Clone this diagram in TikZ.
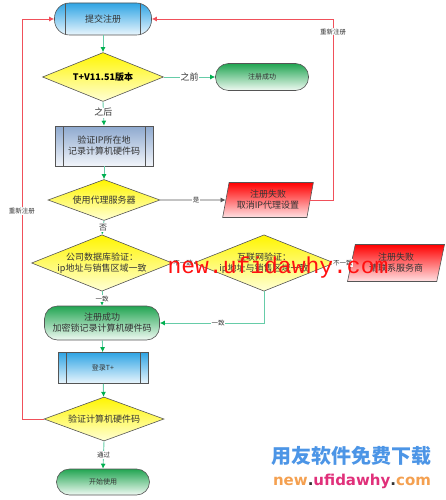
\documentclass[tikz,border=0pt]{standalone}
\usepackage{fontspec}
\usepackage{tikz}
\usetikzlibrary{arrows.meta,shapes.geometric,calc}
\setmainfont{Noto Sans CJK SC}
\newfontfamily\wmmono{Liberation Mono}
\newfontfamily\wmsans{DejaVu Sans}
\definecolor{ink}{HTML}{333333}
\definecolor{edge}{HTML}{555555}
\definecolor{bluetop}{HTML}{2FA4E4}
\definecolor{bluebot}{HTML}{EAF6FD}
\definecolor{steeltop}{HTML}{8EA9CF}
\definecolor{steelbot}{HTML}{F2F5FA}
\definecolor{ylwtop}{HTML}{FFF500}
\definecolor{ylwbot}{HTML}{FFFFD6}
\definecolor{grntop}{HTML}{22A552}
\definecolor{grnbot}{HTML}{F0FAF3}
\definecolor{redtop}{HTML}{FF0000}
\definecolor{redbot}{HTML}{FFE2E4}
\definecolor{flow}{HTML}{66CCA8}
\definecolor{tipgrn}{HTML}{00B050}
\definecolor{loop}{HTML}{F0505A}
\definecolor{wmred}{HTML}{FF1010}
\definecolor{wmblue}{HTML}{4C95E6}
\definecolor{wmorng}{HTML}{F4A050}
\definecolor{wmpink}{HTML}{E0307A}

\tikzset{
  box/.style={draw=edge, line width=0.6pt, font=\fontsize{9}{11}\selectfont,
    text=ink, align=center, inner sep=1pt},
  decide/.style={box, diamond, aspect=2.5, inner sep=0pt,
    top color=ylwtop, bottom color=ylwbot},
  bars/.style={path picture={
    \draw[edge, line width=0.5pt]
      ([xshift=#1]path picture bounding box.north west) -- ([xshift=#1]path picture bounding box.south west)
      ([xshift=-#1]path picture bounding box.north east) -- ([xshift=-#1]path picture bounding box.south east);}},
  proc/.style={box, rectangle, bars=8pt},
  term/.style={box, rectangle, rounded corners=13pt, top color=grntop, bottom color=grnbot},
  fail/.style={box, trapezium, trapezium left angle=76, trapezium right angle=104,
    trapezium stretches=true, top color=redtop, bottom color=redbot},
  flowline/.style={draw=flow, line width=0.9pt, -{Latex[length=5pt,width=5pt,color=tipgrn]}},
  loopline/.style={draw=loop, line width=0.9pt, -{Latex[length=5pt,width=5pt]}},
  tag/.style={font=\fontsize{6.5}{7}\selectfont, text=ink, fill=white, inner sep=0.8pt}
}

\begin{document}
\begin{tikzpicture}[x=1pt, y=-1pt]
  \useasboundingbox (0,0) rectangle (445,500);

  % main column
  \node[box, rectangle, rounded corners=15pt, bars=11pt, top color=bluetop, bottom color=bluebot,
        minimum width=97pt, minimum height=32pt] (reg) at (103,19) {提交注册};
  \node[decide, minimum width=121pt, minimum height=49pt, font=\fontsize{9}{11}\selectfont\bfseries,
        text=black] (ver) at (103,77) {T+V11.51版本};
  \node[term, minimum width=93pt, minimum height=27pt, font=\fontsize{7}{8}\selectfont] (ok1) at (262,77) {注册成功};
  \node[proc, top color=steeltop, bottom color=steelbot, minimum width=98pt, minimum height=40pt]
        (ipbox) at (104,146) {验证IP所在地\\记录计算机硬件码};
  \node[decide, minimum width=112pt, minimum height=41pt] (proxy) at (104,200) {使用代理服务器};
  \node[fail, minimum width=91pt, minimum height=35pt] (fail1) at (268,200) {注册失败\\取消IP代理设置};
  \node[decide, minimum width=132pt, minimum height=43pt] (db) at (102,263) {公司数据库验证：\\ip地址与销售区域一致};
  \node[decide, minimum width=122pt, minimum height=43pt] (net) at (264,263) {互联网验证：\\ip地址与销售区域一致};
  \node[fail, minimum width=97pt, minimum height=37pt] (fail2) at (396,263) {注册失败\\请联系服务商};
  \node[term, minimum width=115pt, minimum height=34pt] (ok2) at (102,323) {注册成功\\加密锁记录计算机硬件码};
  \node[proc, top color=bluetop, bottom color=bluebot, minimum width=90pt, minimum height=31pt,
        font=\fontsize{7}{8}\selectfont] (login) at (103,368) {登录T+};
  \node[decide, minimum width=120pt, minimum height=44pt] (hw) at (104,419) {验证计算机硬件码};
  \node[term, minimum width=93pt, minimum height=26pt, font=\fontsize{7}{8}\selectfont] (start) at (103,482) {开始使用};

  \coordinate (rtop) at (333,19);
  \coordinate (ltop) at (22,19);

  % connectors
  \draw[flowline] (reg) -- (ver);
  \draw[flowline] (ver.east) -- node[tag, font=\fontsize{9}{10}\selectfont] {之前} (ok1.west);
  \draw[flowline] (ver.south) -- node[tag, font=\fontsize{9}{10}\selectfont, pos=0.45] {之后} (ipbox.north);
  \draw[flowline] (ipbox) -- (proxy);
  \draw[draw=edge, line width=0.7pt, -{Latex[length=5pt,width=5pt]}] (proxy.east) -- node[tag, pos=0.55] {是} (fail1.west);
  \draw[loopline] (fail1.east) -| node[tag, pos=0.965] {重新注册} (rtop) -- (reg.east);
  \draw[flowline] (proxy.south) -- node[tag, font=\fontsize{8}{9}\selectfont] {否} (db.north);
  \draw[draw=flow, line width=0.9pt, -{Latex[length=5pt,width=5pt,color=edge]}] (db.east) -- node[tag] {不一致} (net.west);
  \draw[draw=flow, line width=0.9pt, -{Latex[length=5pt,width=5pt,color=edge]}] (net.east) -- node[tag] {不一致} (fail2.west);
  \draw[flowline] (db.south) -- node[tag] {一致} (ok2.north);
  \draw[flowline] (net.south) |- node[tag, pos=0.72] {一致} (ok2.east);
  \draw[flowline] (ok2) -- (login);
  \draw[flowline] (login) -- (hw);
  \draw[loopline] (hw.west) -| node[tag, pos=0.76] {重新注册} (ltop) -- (reg.west);
  \draw[flowline] (hw.south) -- node[tag] {通过} (start.north);

  % watermarks
  \node[font=\wmmono\fontsize{23}{23}\selectfont, text=wmred, inner sep=0pt] (wm) at (278,268) {new.ufidawhy.com};
  \node[font=\bfseries\fontsize{20}{22}\selectfont, text=wmblue, inner sep=0pt] (wmcn) at (351,456) {用友软件免费下载};
  \node[font=\wmsans\bfseries\fontsize{15}{16}\selectfont, inner sep=0pt] (wmurl) at (352,481)
       {\textcolor{wmorng}{new}\textcolor{ink}{.}\textcolor{wmpink}{ufidawhy}\textcolor{ink}{.}\textcolor{wmorng}{com}};
\end{tikzpicture}
\end{document}
